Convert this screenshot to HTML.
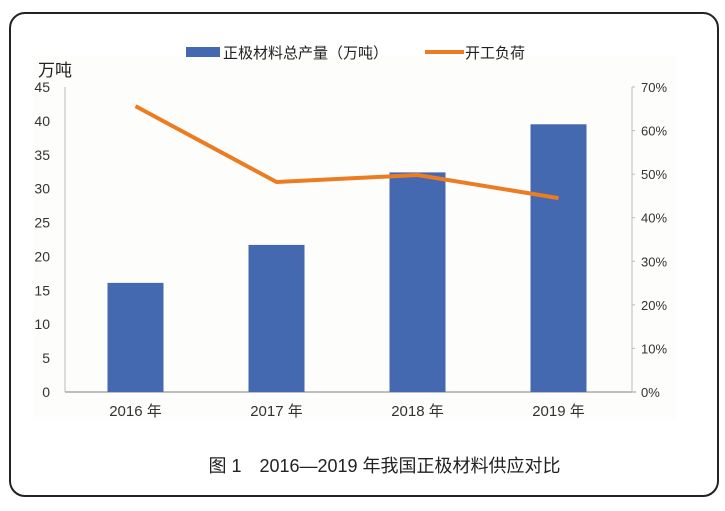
<!DOCTYPE html>
<html><head><meta charset="utf-8"><style>
body{margin:0;background:#fff;width:725px;height:511px;overflow:hidden;font-family:"Liberation Sans","Noto Sans CJK SC",sans-serif;}
#frame{position:absolute;left:9px;top:12px;width:706px;height:481px;border:2px solid #222;border-radius:16px;}
#cap{position:absolute;left:22px;width:725px;top:452px;text-align:center;font-size:18px;color:#222;}
</style></head><body>
<div id="frame"></div>
<svg id="chart" width="725" height="511" style="position:absolute;left:0;top:0">
<rect x="33" y="56" width="644" height="364" fill="#fdfdfb"/>
<g id="g"></g>
</svg>
<div id="cap">图 1　2016—2019 年我国正极材料供应对比</div>
<script>
const categories=["2016 年","2017 年","2018 年","2019 年"];
const production=[16.1,21.7,32.4,39.5];
const loadRate=[65.6,48.2,49.8,44.5];
const leftTicks=[0,5,10,15,20,25,30,35,40,45];
const rightTicks=[0,10,20,30,40,50,60,70];
const X0=65,X1=629,Y0=392,Y1=87;
const RX=632;
const band=(X1-X0)/categories.length;
const xc=i=>X0+band*(i+0.5);
const yl=v=>Y0-(v/45)*(Y0-Y1);
const yr=v=>Y0-(v/70)*(Y0-Y1);
const g=document.getElementById('g');
const NS="http://www.w3.org/2000/svg";
function mk(t,a,txt){const e=document.createElementNS(NS,t);for(const k in a)e.setAttribute(k,a[k]);if(txt!=null)e.textContent=txt;g.appendChild(e);return e;}
let e=mk('line',{x1:X0,y1:Y1,x2:X0,y2:Y0,stroke:'#bbb','stroke-width':1});


e=mk('line',{x1:X0,y1:Y0,x2:RX+4,y2:Y0,stroke:'#999','stroke-width':1.2});


e=mk('line',{x1:RX,y1:Y1,x2:RX,y2:Y0,stroke:'#bbb','stroke-width':1});


leftTicks.forEach(v=>{
 const t=mk('text',{x:50,y:yl(v)+5,'text-anchor':'end','font-size':14,fill:'#333'},String(v));
 
 
});
rightTicks.forEach(v=>{
 const l=mk('line',{x1:RX,y1:yr(v),x2:RX+3,y2:yr(v),stroke:'#bbb'});
 
 
 const t=mk('text',{x:641,y:yr(v)+5,'font-size':13,fill:'#333'},v+'%');
 
 
});
categories.forEach((c,i)=>{
 const t=mk('text',{x:xc(i),y:416,'text-anchor':'middle','font-size':15,fill:'#333'},c);
 
 
});
production.forEach((v,i)=>{
 const b=mk('rect',{x:xc(i)-28,y:yl(v),width:56,height:Y0-yl(v),fill:'#4469b0'});
 
 
});
const pts=loadRate.map((v,i)=>xc(i)+','+yr(v)).join(' ');
e=mk('polyline',{points:pts,fill:'none',stroke:'#ec7c22','stroke-width':4,'stroke-linejoin':'round'});


e=mk('text',{x:38,y:76,'font-size':17,fill:'#222'},'万吨');


e=mk('rect',{x:186,y:47,width:34,height:10,fill:'#4469b0'});


e=mk('text',{x:223,y:58,'font-size':15,fill:'#222'},'正极材料总产量（万吨）');


e=mk('line',{x1:425,y1:52,x2:464,y2:52,stroke:'#ec7c22','stroke-width':4});


e=mk('text',{x:465,y:58,'font-size':15,fill:'#222'},'开工负荷');


</script>
</body></html>
